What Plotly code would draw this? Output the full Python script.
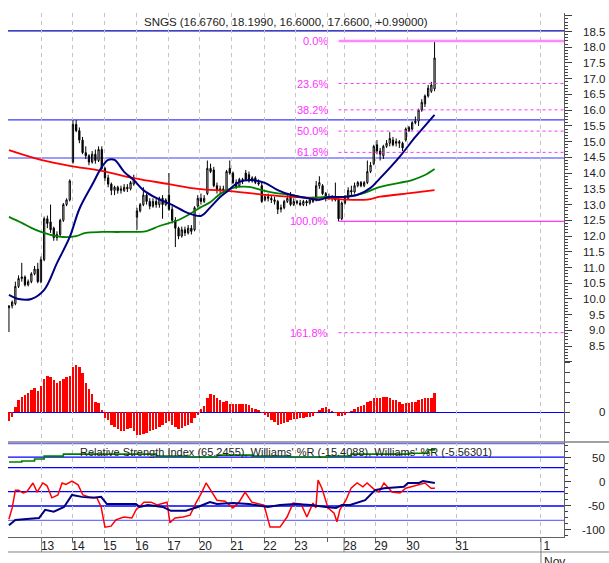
import plotly.graph_objects as go

# ---------------- data ----------------
bar_idx = list(range(134))
opens = [9.72, 9.78, 9.85, 10.40, 10.65, 10.70, 10.45, 10.55, 10.80, 10.95,
         10.55, 11.25, 12.55, 12.45, 12.25, 11.95, 12.05, 12.50, 13.00, 13.15,
         14.35, 15.55, 15.35, 15.05, 14.65, 14.55, 14.35, 14.60, 14.40, 14.75,
         14.15, 13.85, 13.65, 13.45, 13.55, 13.45, 13.45, 13.55, 13.50, 13.65,
         12.60, 12.80, 13.00, 13.30, 13.10, 12.95, 13.10, 13.00, 13.20, 13.00,
         13.30, 12.85, 12.50, 12.25, 12.00, 12.20, 12.10, 12.25, 12.20, 12.95,
         13.20, 13.10, 13.35, 14.15, 14.10, 13.60, 13.45, 13.50, 13.45, 14.15,
         14.00, 13.70, 13.60, 13.80, 14.00, 13.95, 13.75, 13.85, 13.70, 13.60,
         13.15, 13.25, 13.20, 13.15, 13.10, 12.85, 12.90, 13.10, 13.30, 13.00,
         13.10, 13.05, 13.00, 13.10, 13.05, 13.10, 13.15, 13.60, 13.60, 13.35,
         13.20, 13.25, 13.20, 13.15, 12.55, 13.05, 13.20, 13.45, 13.40, 13.60,
         13.70, 13.60, 13.70, 14.05, 14.30, 14.90, 14.70, 14.55, 14.85, 14.95,
         15.05, 14.95, 15.00, 14.95, 15.05, 15.35, 15.40, 15.60, 15.65, 16.00,
         16.20, 16.45, 16.60, 16.676]
highs = [9.80, 9.95, 10.55, 10.75, 11.15, 10.75, 10.62, 10.85, 11.05, 11.15,
         11.35, 12.62, 12.65, 13.00, 12.30, 12.15, 12.55, 13.05, 13.20, 13.80,
         15.69, 15.69, 15.45, 15.15, 14.85, 14.60, 14.70, 14.75, 14.85, 14.85,
         14.20, 13.95, 13.70, 13.60, 13.60, 13.60, 13.65, 13.65, 13.75, 13.95,
         12.90, 13.05, 13.55, 13.35, 13.20, 13.20, 13.20, 13.25, 13.30, 13.20,
         14.00, 12.95, 12.60, 12.30, 12.30, 12.30, 12.35, 12.35, 12.95, 13.30,
         13.35, 13.30, 14.40, 14.30, 14.20, 13.70, 13.60, 13.60, 14.10, 14.40,
         14.05, 13.80, 13.85, 13.85, 14.10, 14.05, 13.90, 13.90, 13.80, 13.70,
         13.30, 13.35, 13.30, 13.25, 13.15, 13.00, 13.15, 13.30, 13.40, 13.20,
         13.15, 13.15, 13.15, 13.15, 13.20, 13.25, 13.75, 13.90, 13.65, 13.40,
         13.35, 13.30, 13.70, 13.25, 13.10, 13.30, 13.55, 13.60, 13.70, 13.75,
         13.75, 13.75, 14.40, 14.35, 14.90, 15.05, 14.80, 14.90, 15.05, 15.30,
         15.15, 15.10, 15.05, 15.00, 15.45, 15.50, 15.65, 15.80, 16.05, 16.35,
         16.50, 16.80, 16.90, 18.199]
lows = [8.95, 9.70, 9.80, 10.35, 10.55, 10.40, 10.40, 10.50, 10.75, 10.50,
        10.50, 11.20, 12.25, 12.10, 11.85, 11.85, 12.00, 12.45, 12.95, 13.10,
        14.30, 15.30, 14.95, 14.60, 14.45, 14.25, 14.30, 14.30, 14.35, 14.10,
        13.75, 13.55, 13.30, 13.30, 13.35, 13.35, 13.40, 13.40, 13.45, 13.60,
        12.20, 12.75, 12.95, 13.00, 12.85, 12.90, 12.90, 12.90, 12.55, 12.95,
        12.80, 12.40, 11.65, 11.90, 11.95, 12.00, 12.05, 12.05, 12.15, 12.90,
        13.00, 13.05, 13.30, 14.00, 13.55, 13.35, 13.35, 13.35, 13.40, 13.95,
        13.65, 13.50, 13.55, 13.65, 13.75, 13.70, 13.70, 13.65, 13.60, 13.05,
        13.10, 13.10, 13.05, 13.00, 12.70, 12.75, 12.85, 13.05, 12.95, 12.95,
        13.00, 12.95, 12.95, 12.95, 13.00, 13.05, 13.10, 13.50, 13.30, 13.10,
        13.15, 13.10, 13.10, 12.47, 12.50, 13.00, 13.15, 13.30, 13.35, 13.55,
        13.55, 13.55, 13.65, 14.00, 14.25, 14.60, 14.40, 14.45, 14.80, 14.85,
        14.85, 14.85, 14.80, 14.70, 15.00, 15.30, 15.35, 15.55, 15.50, 15.95,
        16.10, 16.40, 16.55, 16.60]
closes = [9.78, 9.90, 10.40, 10.65, 10.70, 10.45, 10.55, 10.80, 10.95, 10.55,
          11.25, 12.55, 12.40, 12.20, 11.95, 12.05, 12.50, 13.00, 13.15, 13.75,
          15.55, 15.35, 15.05, 14.65, 14.55, 14.35, 14.60, 14.40, 14.75, 14.15,
          13.85, 13.65, 13.45, 13.55, 13.45, 13.50, 13.55, 13.50, 13.70, 13.85,
          12.80, 13.00, 13.30, 13.10, 12.95, 13.10, 13.00, 13.20, 13.00, 13.15,
          12.85, 12.50, 12.25, 12.00, 12.20, 12.10, 12.25, 12.15, 12.90, 13.20,
          13.10, 13.20, 14.15, 14.05, 13.60, 13.45, 13.50, 13.45, 14.05, 14.00,
          13.70, 13.55, 13.80, 13.75, 13.80, 13.75, 13.85, 13.70, 13.65, 13.10,
          13.25, 13.20, 13.15, 13.10, 12.85, 12.90, 13.10, 13.20, 13.00, 13.10,
          13.05, 13.00, 13.10, 13.05, 13.15, 13.15, 13.60, 13.70, 13.35, 13.20,
          13.25, 13.20, 13.15, 12.55, 13.05, 13.20, 13.45, 13.40, 13.60, 13.70,
          13.60, 13.70, 14.05, 14.25, 14.85, 14.70, 14.60, 14.85, 14.95, 15.10,
          14.90, 15.00, 14.95, 14.80, 15.40, 15.45, 15.60, 15.65, 16.00, 16.25,
          16.45, 16.70, 16.80, 17.66]

# moving averages (read at sample bars)
ma_fast_x = [0, 3, 7, 11, 15, 19, 22, 26, 29, 31, 33, 36, 39, 42, 46, 51, 56, 60, 63,
             66, 68, 72, 76, 80, 84, 88, 93, 97, 100, 104, 109, 113, 116, 122, 127, 131, 133]
ma_fast_y = [10.13, 10.0, 10.0, 10.29, 11.14, 11.97, 12.86, 13.63, 14.19, 14.42, 14.42,
             14.04, 13.78, 13.46, 13.21, 12.99, 12.73, 12.64, 12.92, 13.24, 13.40, 13.72,
             13.78, 13.69, 13.46, 13.31, 13.21, 13.15, 13.24, 13.24, 13.31, 13.53, 13.84,
             14.51, 15.15, 15.62, 15.85]
ma_mid_x = [0, 4, 7, 10, 13, 17, 21, 24, 29, 35, 43, 47, 53, 57, 60, 63, 66, 70, 75, 79,
            83, 88, 93, 98, 104, 110, 116, 122, 126, 130, 133]
ma_mid_y = [12.61, 12.42, 12.26, 12.13, 12.04, 11.97, 12.00, 12.10, 12.13, 12.13, 12.16,
            12.32, 12.51, 12.73, 12.92, 13.08, 13.34, 13.53, 13.56, 13.46, 13.37, 13.31,
            13.21, 13.24, 13.24, 13.34, 13.56, 13.69, 13.78, 13.94, 14.13]
ma_slow_x = [0, 10, 19, 29, 39, 50, 59, 69, 80, 90, 100, 105, 112, 116, 126, 133]
ma_slow_y = [14.73, 14.42, 14.23, 14.07, 13.84, 13.65, 13.50, 13.43, 13.31, 13.24, 13.20,
             13.16, 13.16, 13.25, 13.37, 13.46]

# MACD histogram, one value per bar
macd_hist = [-0.09, -0.05, 0.05, 0.12, 0.15, 0.17, 0.19, 0.22, 0.24, 0.21,
             0.26, 0.33, 0.36, 0.35, 0.32, 0.29, 0.31, 0.33, 0.35, 0.36,
             0.45, 0.47, 0.45, 0.39, 0.29, 0.23, 0.18, 0.10, 0.09, 0.02,
             -0.06, -0.08, -0.13, -0.15, -0.17, -0.19, -0.19, -0.17, -0.16, -0.19,
             -0.23, -0.23, -0.22, -0.21, -0.19, -0.18, -0.17, -0.15, -0.13, -0.11,
             -0.09, -0.13, -0.15, -0.17, -0.16, -0.14, -0.13, -0.11, -0.06, -0.03,
             0.03, 0.06, 0.14, 0.18, 0.17, 0.14, 0.12, 0.10, 0.11, 0.08,
             0.08, 0.08, 0.08, 0.08, 0.08, 0.07, 0.04, 0.03, 0.02, -0.01,
             -0.03, -0.05, -0.08, -0.10, -0.13, -0.12, -0.11, -0.10, -0.08, -0.07,
             -0.07, -0.06, -0.06, -0.05, -0.05, -0.04, -0.01, 0.02, 0.04, 0.05,
             0.03, 0.01, -0.01, -0.04, -0.04, -0.03, -0.01, 0.01, 0.03, 0.05,
             0.06, 0.07, 0.10, 0.11, 0.14, 0.14, 0.14, 0.15, 0.15, 0.14,
             0.12, 0.12, 0.10, 0.08, 0.09, 0.09, 0.10, 0.10, 0.12, 0.13,
             0.14, 0.14, 0.14, 0.19]

# RSI / Williams %R panel
rsi_x = [0, 4, 8, 11, 13, 17, 29, 40, 46, 56, 65, 76, 88, 100, 107, 116, 125, 131, 133]
rsi_y = [41.7, 43.8, 47.9, 54, 54, 58, 58, 58, 54, 52, 56, 54, 52, 54, 58, 58, 60, 67, 69]
wr_fast_x = [0, 1, 2, 3, 4.4, 5.6, 7.5, 8.8, 10.6, 11.9, 13.4, 15.3, 16.6, 17.8, 19.7, 21.6,
             23.1, 25, 27.5, 28.8, 30, 31.9, 33.4, 35.9, 38.4, 39.7, 42.2, 44.4, 46.3, 48.1,
             49.4, 50.3, 51.9, 54.4, 56.6, 58.4, 60.3, 61.6, 63.4, 65, 67.5, 70, 71.9, 73.8,
             75.9, 79.7, 81.6, 84.7, 86.9, 88.8, 91.3, 93.1, 95, 95.9, 96.6, 97.8, 99.7,
             101.6, 102.5, 103.4, 105.3, 106.9, 108.8, 110.6, 111.9, 114.4, 115.6, 117.2,
             119.7, 122.2, 124, 125.9, 128.1, 130, 131.9, 133.1]
wr_fast_y = [-77, -54, -17, -17, -23, -20, -2, -21, -2, -8, -33, -27, -2, -5, 2, -6,
             -27, -31, -33, -52, -94, -92, -79, -73, -75, -58, -42, -42, -48, -44,
             -42, -85, -75, -73, -69, -44, -21, -2, -21, -38, -40, -54, -42, -21,
             -42, -48, -94, -94, -73, -44, -46, -73, -44, -54, 4, -13, -54,
             -65, -83, -58, -38, -13, -2, -10, -2, -17, -21, -2,
             -21, -23, -13, -10, -6, -2, -13, -13]
wr_slow_x = [0, 2, 5.6, 9.4, 11.3, 14, 17.2, 19.7, 22.8, 26.3, 28.8, 30.6, 33.4, 39.7, 40.9,
             43.4, 48.1, 50.6, 55.3, 59, 62.8, 65, 70, 75, 80.9, 84.7, 89.4, 94.4, 99,
             102.2, 104, 106.6, 111.3, 114.4, 117.2, 123.4, 124.7, 128.1, 129.4, 133.1]
wr_slow_y = [-90, -79, -77, -75, -58, -62, -52, -27, -31, -33, -31, -46, -46, -46, -52,
             -48, -52, -60, -60, -52, -42, -46, -44, -46, -52, -48, -46, -48, -52,
             -54, -48, -48, -38, -17, -13, -10, -2, -2, 2, -2]
osc_levels = [80, 52, 30, -20, -50, -80]

# support / resistance and Fibonacci retracement
sr_levels = [18.52, 15.69, 14.48]
fib_high = 18.199
fib_low = 12.47
fib_start_bar = 103
fib_pcts = [0.0, 23.6, 38.2, 50.0, 61.8, 100.0, 161.8]
fib_labels = ["0.0%", "23.6%", "38.2%", "50.0%", "61.8%", "100.0%", "161.8%"]

# axes
day_tick_pos = [10.2, 19.7, 29.7, 39.7, 49.7, 59.5, 69.4, 79.7, 89.4, 99.4, 104.7,
                114.4, 124.4, 139.7, 166.25]
day_tick_text = ["13", "14", "15", "16", "17", "20", "21", "22", "23", "", "28",
                 "29", "30", "31", "1"]
week_start_labels = ["13", "28"]
month_start_label = "1"
month_name = "Nov"
price_tick_text = ["18.5", "18.0", "17.5", "17.0", "16.5", "16.0", "15.5", "15.0", "14.5",
                   "14.0", "13.5", "13.0", "12.5", "12.0", "11.5", "11.0", "10.5", "10.0",
                   "9.5", "9.0", "8.5"]
macd_tick_text = ["0"]
osc_tick_text = ["50", "0", "-50", "-100"]

title_text = "SNGS (16.6760, 18.1990, 16.6000, 17.6600, +0.99000)"
osc_title = ("Relative Strength Index (65.2455), Williams' %R (-15.4088), "
             "Williams' %R (-5.56301)")

# ---------------- figure ----------------
X_RANGE = [-0.3, 173.45]
FONT = "Arial, Liberation Sans, sans-serif"
TXT = "#222222"

fig = go.Figure()
annotations = []

# MACD histogram
fig.add_trace(go.Bar(x=bar_idx, y=macd_hist, width=0.72, marker=dict(color="#ff0000", line=dict(width=0)),
                     yaxis="y2", hoverinfo="skip"))

# candles
fig.add_trace(go.Candlestick(
    x=bar_idx, open=opens, high=highs, low=lows, close=closes, yaxis="y",
    whiskerwidth=0,
    increasing=dict(line=dict(color="black", width=1), fillcolor="white"),
    decreasing=dict(line=dict(color="black", width=1), fillcolor="black"),
    hoverinfo="skip"))

# moving averages
fig.add_trace(go.Scatter(x=ma_slow_x, y=ma_slow_y, mode="lines", line=dict(color="#ff0000", width=1.8, shape="spline"), yaxis="y"))
fig.add_trace(go.Scatter(x=ma_mid_x, y=ma_mid_y, mode="lines", line=dict(color="#008000", width=1.8, shape="spline"), yaxis="y"))
fig.add_trace(go.Scatter(x=ma_fast_x, y=ma_fast_y, mode="lines", line=dict(color="#000080", width=2, shape="spline"), yaxis="y"))

# Fibonacci lines
fib_prices = [fib_high - p / 100.0 * (fib_high - fib_low) for p in fib_pcts]
for pct, price, lab in zip(fib_pcts, fib_prices, fib_labels):
    if pct == 0.0:
        ln = dict(color="#ff88ff", width=2.5)
    elif pct == 100.0:
        ln = dict(color="#ff00ff", width=1)
    else:
        ln = dict(color="#ff33ff", width=1, dash="3px,3px")
    fig.add_trace(go.Scatter(x=[fib_start_bar, X_RANGE[1]], y=[price, price], mode="lines",
                             line=ln, yaxis="y", hoverinfo="skip"))
    annotations.append(dict(x=fib_start_bar, y=price, xref="x", yref="y", text=lab, showarrow=False,
                            xanchor="right", xshift=-9, font=dict(family=FONT, size=11, color="#ff33ff")))

# oscillators
fig.add_trace(go.Scatter(x=rsi_x, y=rsi_y, mode="lines", line=dict(color="#008000", width=1.6, shape="hv"), yaxis="y3"))
fig.add_trace(go.Scatter(x=wr_fast_x, y=wr_fast_y, mode="lines", line=dict(color="#ff0000", width=1.5), yaxis="y3"))
fig.add_trace(go.Scatter(x=wr_slow_x, y=wr_slow_y, mode="lines", line=dict(color="#000080", width=2), yaxis="y3"))

shapes = []
for i, lv in enumerate(sr_levels):
    shapes.append(dict(type="line", xref="x domain", x0=0, x1=1, yref="y", y0=lv, y1=lv,
                       line=dict(color="#0000b0" if i == 0 else "#3a3aff", width=1.2), layer="below"))
shapes.append(dict(type="line", xref="x domain", x0=0, x1=1, yref="y2", y0=0, y1=0,
                   line=dict(color="#0000ff", width=1.2), layer="below"))
for i, lv in enumerate(osc_levels):
    outer = i in (0, len(osc_levels) - 1)
    shapes.append(dict(type="line", xref="x domain", x0=0, x1=1, yref="y3", y0=lv, y1=lv,
                       line=dict(color="#7070ff" if outer else "#0000ff", width=1.3), layer="below"))
# panel separator and the lower date band
shapes.append(dict(type="line", xref="paper", x0=0, x1=1.081, yref="y3 domain", y0=1, y1=1,
                   line=dict(color="#808080", width=1.6)))
shapes.append(dict(type="line", xref="paper", x0=0, x1=1.081, yref="paper", y0=-0.0286, y1=-0.0286,
                   line=dict(color="#808080", width=1)))
for pos, lab in zip(day_tick_pos, day_tick_text):
    if lab in week_start_labels:
        shapes.append(dict(type="line", xref="x", x0=pos, x1=pos, yref="paper", y0=0, y1=-0.0286,
                           line=dict(color="#808080", width=1)))
    if lab == month_start_label:
        shapes.append(dict(type="line", xref="x", x0=pos, x1=pos, yref="paper", y0=0, y1=-0.06,
                           line=dict(color="#808080", width=1)))

for pos, lab in zip(day_tick_pos, day_tick_text):
    if lab == month_start_label:
        annotations.append(dict(x=pos, y=-0.0286, xref="x", yref="paper", text=month_name, showarrow=False,
                                xanchor="left", yanchor="top", xshift=1, yshift=-1,
                                font=dict(family=FONT, size=12, color=TXT)))
for lab in price_tick_text:
    annotations.append(dict(x=1, xref="paper", xanchor="right", xshift=43, y=float(lab), yref="y",
                            text=lab, showarrow=False, font=dict(family=FONT, size=11.5, color=TXT)))
for lab in macd_tick_text:
    annotations.append(dict(x=1, xref="paper", xanchor="right", xshift=43, y=float(lab), yref="y2",
                            text=lab, showarrow=False, font=dict(family=FONT, size=11.5, color=TXT)))
for lab in osc_tick_text:
    annotations.append(dict(x=1, xref="paper", xanchor="right", xshift=43, y=float(lab), yref="y3",
                            text=lab, showarrow=False, font=dict(family=FONT, size=11.5, color=TXT)))
annotations.append(dict(x=0.5, y=0.983, xref="paper", yref="paper", text=title_text, showarrow=False,
                        xanchor="center", yanchor="middle", font=dict(family=FONT, size=11.5, color=TXT)))
annotations.append(dict(x=0.5, y=0.1622, xref="paper", yref="paper", text=osc_title, showarrow=False,
                        xanchor="center", yanchor="middle", font=dict(family=FONT, size=11, color=TXT)))

axis_common = dict(side="right", anchor="x", showgrid=False, zeroline=False, showline=True,
                   linecolor="#606060", linewidth=1, tickcolor="#404040", showticklabels=False,
                   fixedrange=True)

fig.update_layout(
    width=609, height=563, autosize=False,
    margin=dict(l=8, r=45, t=13, b=26),
    paper_bgcolor="white", plot_bgcolor="white", showlegend=False,
    font=dict(family=FONT, size=11, color=TXT),
    xaxis=dict(range=X_RANGE, tickvals=day_tick_pos, ticktext=day_tick_text,
               tickfont=dict(family=FONT, size=12, color=TXT),
               ticklabelshift=6, ticklabelstandoff=-6,
               ticks="outside", ticklen=4, tickcolor="#606060",
               showgrid=True, gridcolor="#c4c4c4", griddash="4px,4px", gridwidth=1,
               showline=True, linecolor="#606060", linewidth=1, zeroline=False,
               rangeslider=dict(visible=False), anchor="y3", fixedrange=True),
    yaxis=dict(domain=[0.334, 1.0], range=[7.998, 19.088], dtick=0.5, tick0=0,
               ticks="outside", ticklen=7,
               minor=dict(dtick=0.1, ticks="outside", ticklen=3, tickcolor="#404040"), **axis_common),
    yaxis2=dict(domain=[0.1813, 0.334], range=[-0.295, 0.505],
                tickvals=[-0.2, -0.1, 0.0, 0.1, 0.2, 0.3, 0.4, 0.5], ticks="outside", ticklen=5,
                **axis_common),
    yaxis3=dict(domain=[0.0, 0.1813], range=[-114.58, 83.33], dtick=50, tick0=0,
                ticks="outside", ticklen=6,
                minor=dict(dtick=12.5, ticks="outside", ticklen=3, tickcolor="#404040"), **axis_common),
    shapes=shapes, annotations=annotations, bargap=0, boxgap=0.45,
)

fig.write_html("out.html", config={"displayModeBar": False, "staticPlot": True},
               post_script="document.body.style.margin='0px';document.body.style.overflow='hidden';")
